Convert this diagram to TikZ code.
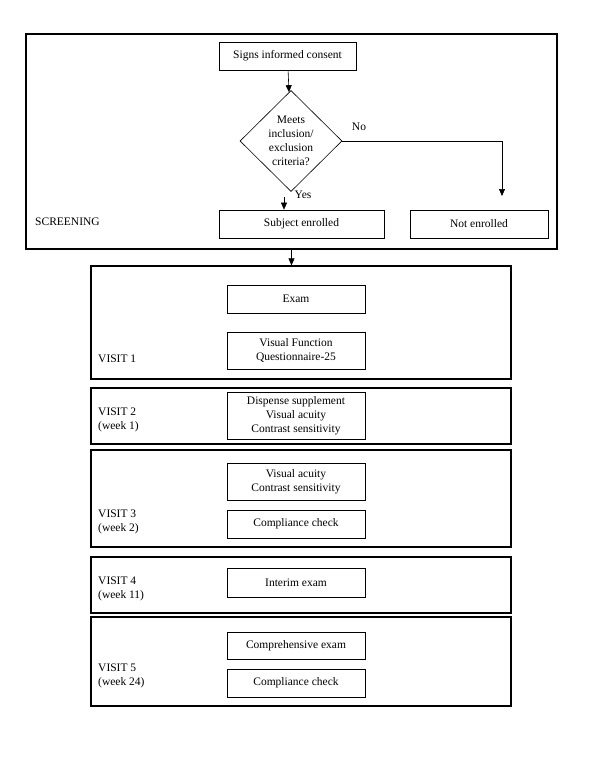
\documentclass[tikz,border=0pt]{standalone}
\usepackage{fontspec}
\setmainfont{Liberation Serif}
\usetikzlibrary{arrows.meta,shapes.geometric}

\tikzset{
  stagebox/.style={draw, line width=1.3pt, inner sep=0pt, minimum width=420},
  taskbox/.style={draw, line width=0.7pt, minimum width=138, minimum height=28, align=center, inner sep=1pt},
  decision/.style={draw, diamond, line width=0.6pt, aspect=1, inner sep=0pt, minimum width=102, minimum height=101, align=center},
  stagelabel/.style={anchor=west, align=left, inner sep=0pt},
  flow/.style={-{Triangle[length=7pt,width=6pt]}, line width=0.6pt}
}

\begin{document}
\begin{tikzpicture}[x=1pt,y=-1pt,font=\fontsize{11.5}{14}\selectfont]

        \useasboundingbox (0,0) rectangle (600,777);

        % screening
        \node[stagebox, minimum width=531, minimum height=215] (screen) at (291.5,141.5) {};
        \node[taskbox, minimum width=137] (consent) at (287.5,56) {Signs informed consent};
        \node[decision] (crit) at (291,141) {Meets\\inclusion/\\exclusion\\criteria?};
        \node[taskbox, minimum width=165] (enrol) at (301.5,224) {Subject enrolled};
        \node[taskbox] (notenrol) at (479,224) {Not enrolled};
        \node[stagelabel] (screenlbl) at (35,222) {SCREENING};
        \node (nolbl) at (359,127) {No};
        \node (yeslbl) at (303,195) {Yes};
        \coordinate (yestop) at (284,197);
        \coordinate (notop) at (502,196);

        % visit 1
        \node[stagebox, minimum height=113] (visit1) at (301,322.5) {};
        \node[taskbox] (exam) at (296,299) {Exam};
        \node[taskbox, minimum height=37] (vfq) at (296,350.5) {Visual Function\\Questionnaire-25};
        \node[stagelabel] (v1lbl) at (98,359) {VISIT 1};

        % visit 2
        \node[stagebox, minimum height=56] (visit2) at (301,416) {};
        \node[taskbox, minimum height=47] (dispense) at (296,415.5) {Dispense supplement\\Visual acuity\\Contrast sensitivity};
        \node[stagelabel] (v2lbl) at (98,420) {VISIT 2\\(week 1)};

        % visit 3
        \node[stagebox, minimum height=97] (visit3) at (301,498.5) {};
        \node[taskbox, minimum height=37] (acuity3) at (296,481.5) {Visual acuity\\Contrast sensitivity};
        \node[taskbox] (comply3) at (296,524) {Compliance check};
        \node[stagelabel] (v3lbl) at (98,522) {VISIT 3\\(week 2)};

        % visit 4
        \node[stagebox, minimum height=56] (visit4) at (301,585) {};
        \node[taskbox, minimum height=29] (interim) at (296,582.5) {Interim exam};
        \node[stagelabel] (v4lbl) at (98,588.5) {VISIT 4\\(week 11)};

        % visit 5
        \node[stagebox, minimum height=89] (visit5) at (301,661.5) {};
        \node[taskbox, minimum height=27] (compre) at (296,645.5) {Comprehensive exam};
        \node[taskbox] (comply5) at (296,683) {Compliance check};
        \node[stagelabel] (v5lbl) at (98,675.5) {VISIT 5\\(week 24)};

        % arrows
        \draw[flow] (consent) -- (crit);
        \draw[flow] (crit.east) -| (notop);
        \draw[flow] (yestop) -- (yestop |- enrol.north);
        \draw[flow] (screen.south) -- (screen.south |- visit1.north);

\end{tikzpicture}
\end{document}
